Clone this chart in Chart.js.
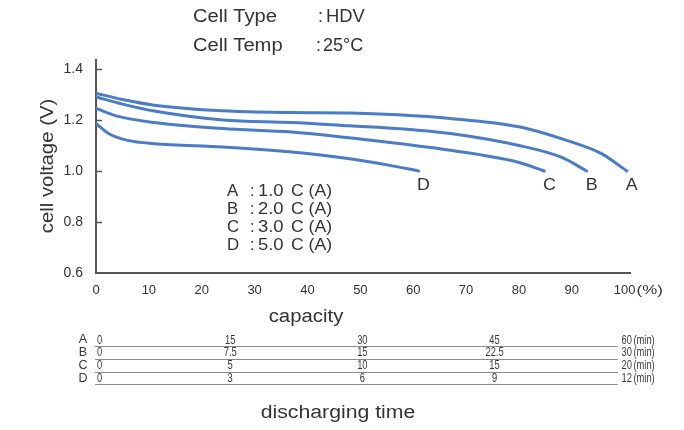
<!DOCTYPE html>
<html>
<head>
<meta charset="utf-8">
<script src="https://cdn.jsdelivr.net/npm/chart.js@4.4.1/dist/chart.umd.min.js"></script>
<style>
  body { margin: 0; background: #fff; }
  #c { display: block; }
</style>
</head>
<body>
<canvas id="c" width="684" height="430"></canvas>
<script>
// discharge curves: capacity (%) vs cell voltage (V)
const capA = [0, 5, 11, 24, 37, 48, 57, 67, 80, 89, 95.6, 100.4];
const voltA = [1.305, 1.28, 1.258, 1.236, 1.229, 1.227, 1.22, 1.206, 1.173, 1.12, 1.068, 1.0];
const capB = [0, 5, 11, 24, 37, 48, 58, 67, 80, 88, 92.8];
const voltB = [1.29, 1.262, 1.235, 1.2, 1.19, 1.177, 1.165, 1.147, 1.1, 1.054, 1.0];
const capC = [0, 4, 11, 24, 37, 50, 67, 79.7, 84.8];
const voltC = [1.245, 1.215, 1.19, 1.166, 1.153, 1.125, 1.081, 1.035, 1.0];
const capD = [0, 2.3, 6, 11, 24, 37, 48, 55.6, 61];
const voltD = [1.186, 1.148, 1.12, 1.107, 1.094, 1.074, 1.048, 1.022, 1.0];

const seriesNames = ['A', 'B', 'C', 'D'];
const rates = ['1.0', '2.0', '3.0', '5.0'];
const xTicks = [0, 10, 20, 30, 40, 50, 60, 70, 80, 90, 100];
const yTicks = [0.6, 0.8, 1.0, 1.2, 1.4];

// discharging time rows (min) at 0/25/50/75/100 % capacity
const timePct = [0, 25, 50, 75, 100];
const timeA = ['0', '15', '30', '45', '60'];
const timeB = ['0', '7.5', '15', '22.5', '30'];
const timeC = ['0', '5', '10', '15', '20'];
const timeD = ['0', '3', '6', '9', '12'];

const BLUE = '#4a7cc7';
const TXT = '#333';
const FONT = "'Liberation Sans', Arial, sans-serif";

function pts(xs, ys) { return xs.map((x, i) => ({ x: x, y: ys[i] })); }

function txt(ctx, s, x, y, size, opt) {
  opt = opt || {};
  ctx.save();
  ctx.translate(x, y);
  if (opt.rot) ctx.rotate(opt.rot);
  ctx.scale(opt.sx || 1, 1);
  ctx.font = size + 'px ' + FONT;
  ctx.fillStyle = opt.color || TXT;
  ctx.textAlign = opt.align || 'left';
  ctx.textBaseline = 'middle';
  ctx.fillText(s, 0, 0);
  const w = ctx.measureText(s).width * (opt.sx || 1);
  ctx.restore();
  return w;
}

const extras = {
  id: 'extras',
  afterDraw(chart) {
    const ctx = chart.ctx;
    const xs = chart.scales.x, ys = chart.scales.y;
    const left = chart.chartArea.left;

    // inner y ticks
    ctx.save();
    ctx.strokeStyle = '#555';
    ctx.lineWidth = 1.5;
    yTicks.slice(1).forEach(v => {
      const y = Math.round(ys.getPixelForValue(v)) + 0.5;
      ctx.beginPath(); ctx.moveTo(left, y); ctx.lineTo(left + 6, y); ctx.stroke();
    });
    ctx.restore();

    // header
    txt(ctx, 'Cell Type', 193, 17, 18, { sx: 1.12 });
    txt(ctx, ':', 318, 17, 18);
    txt(ctx, 'HDV', 326, 17, 18, { sx: 1.02 });
    txt(ctx, 'Cell Temp', 193, 46, 18, { sx: 1.12 });
    txt(ctx, ':', 316, 46, 18);
    txt(ctx, '25°C', 323, 46, 18, { sx: 1.0 });

    // axis titles
    txt(ctx, 'cell voltage (V)', 48, 166, 18, { sx: 1.13, rot: -Math.PI / 2, align: 'center' });
    txt(ctx, 'capacity', 306, 317, 18, { sx: 1.13, align: 'center' });
    txt(ctx, 'discharging time', 338, 413, 18, { sx: 1.18, align: 'center' });

    // "(%)" after the 100 tick
    const x100 = xs.getPixelForValue(100);
    ctx.save();
    ctx.font = '13px ' + FONT;
    const w100 = ctx.measureText('100').width;
    ctx.restore();
    txt(ctx, '(%)', x100 + w100 / 2 + 1, 290, 13, { sx: 1.3 });

    // curve end labels
    chart.data.datasets.forEach((ds, i) => {
      const last = ds.data[ds.data.length - 1];
      const px = xs.getPixelForValue(last.x), py = ys.getPixelForValue(last.y);
      txt(ctx, seriesNames[i], px + 5, py + 14, 17, { align: 'center', sx: 1.05 });
    });

    // rate legend
    seriesNames.forEach((n, i) => {
      const y = 192 + i * 18;
      txt(ctx, n, 227, y, 16, { sx: 1.05 });
      txt(ctx, ':', 250, y, 16);
      txt(ctx, rates[i], 258, y, 16, { sx: 1.15 });
      txt(ctx, 'C (A)', 291, y, 16, { sx: 1.1 });
    });

    // discharging time table
    const rows = [timeA, timeB, timeC, timeD];
    const x0 = xs.getPixelForValue(0);
    rows.forEach((row, r) => {
      const yMid = 340 + r * 12.8;
      txt(ctx, seriesNames[r], 83, yMid, 12.5, { align: 'center', color: '#3a3a3a' });
      row.forEach((v, k) => {
        const px = xs.getPixelForValue(timePct[k]);
        if (k === 0) {
          txt(ctx, v, x0 + 1, yMid, 13, { sx: 0.72, color: '#3a3a3a' });
        } else {
          const w = txt(ctx, v, px + 2, yMid, 13, { sx: 0.72, align: 'center', color: '#3a3a3a' });
          if (k === row.length - 1) txt(ctx, '(min)', px + 2 + w / 2 + 1.5, yMid, 13, { sx: 0.72, color: '#3a3a3a' });
        }
      });
      const ly = Math.round(yMid + 6) + 0.5;
      ctx.save();
      ctx.strokeStyle = '#8a8a8a';
      ctx.lineWidth = 1;
      ctx.beginPath(); ctx.moveTo(x0 - 1, ly); ctx.lineTo(x100 - 7, ly); ctx.stroke();
      ctx.restore();
    });
  }
};

Chart.defaults.font.family = FONT;
Chart.defaults.color = TXT;

new Chart(document.getElementById('c').getContext('2d'), {
  type: 'line',
  data: {
    datasets: [
      { label: 'A', data: pts(capA, voltA) },
      { label: 'B', data: pts(capB, voltB) },
      { label: 'C', data: pts(capC, voltC) },
      { label: 'D', data: pts(capD, voltD) }
    ].map(d => Object.assign(d, {
      borderColor: BLUE, borderWidth: 3, pointRadius: 0, fill: false,
      cubicInterpolationMode: 'monotone', borderCapStyle: 'round'
    }))
  },
  options: {
    responsive: false,
    animation: false,
    layout: { padding: { left: 0, right: 54, top: 60, bottom: 0 } },
    plugins: { legend: { display: false }, tooltip: { enabled: false } },
    scales: {
      x: {
        type: 'linear', min: 0, max: 101,
        afterBuildTicks: s => { s.ticks = xTicks.map(v => ({ value: v })); },
        afterFit: s => { s.height = 430 - 273; },
        grid: { drawOnChartArea: false, drawTicks: false },
        border: { color: '#555', width: 2 },
        ticks: { padding: 10, font: { size: 13 }, color: TXT, maxRotation: 0, autoSkip: false }
      },
      y: {
        min: 0.6, max: 1.435,
        afterBuildTicks: s => { s.ticks = yTicks.map(v => ({ value: v })); },
        afterFit: s => { s.width = 96; },
        grid: { drawOnChartArea: false, drawTicks: false },
        border: { color: '#555', width: 2 },
        ticks: { padding: 13, font: { size: 14 }, color: TXT, callback: v => v.toFixed(1) }
      }
    }
  },
  plugins: [extras]
});
</script>
</body>
</html>
